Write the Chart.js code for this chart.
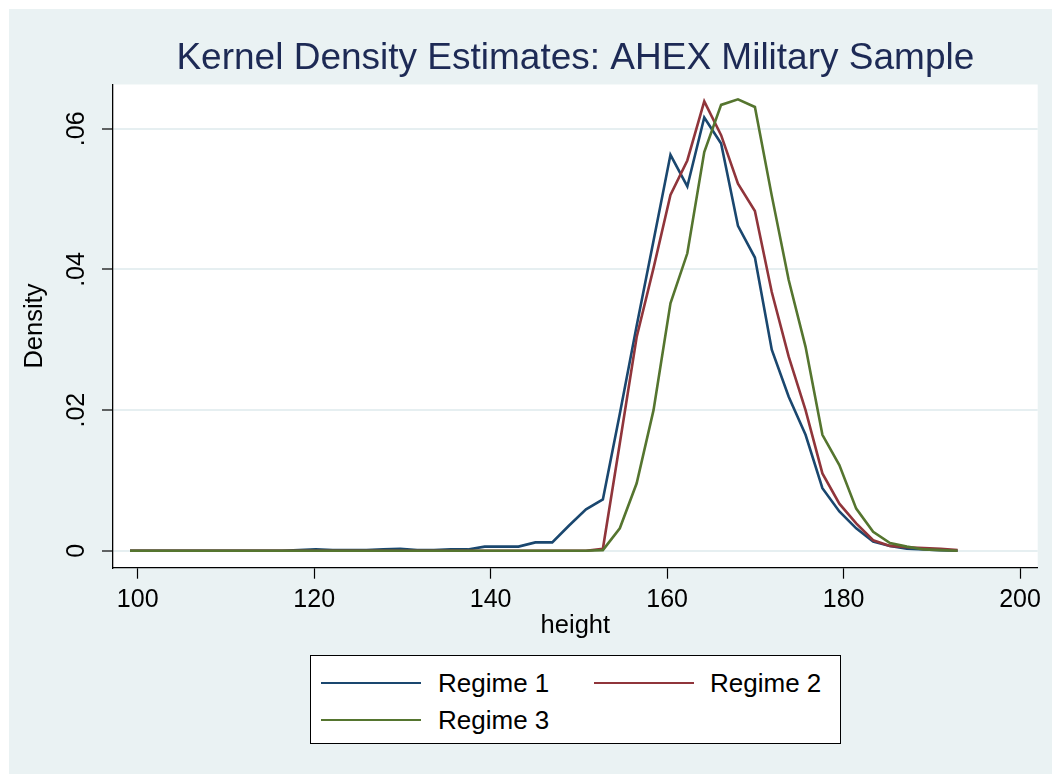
<!DOCTYPE html>
<html>
<head>
<meta charset="utf-8">
<script src="https://cdn.jsdelivr.net/npm/chart.js@4.4.1/dist/chart.umd.min.js"></script>
<style>
html,body{margin:0;padding:0;background:#ffffff;}
#wrap{position:relative;width:1052px;height:774px;overflow:hidden;}
#bg{position:absolute;left:9px;top:9px;right:0;bottom:0;background:#EAF2F3;}
#c{position:absolute;left:0;top:0;}
#legendBox{position:absolute;left:310px;top:655px;width:531px;height:89px;background:#fff;border:1px solid #000;box-sizing:border-box;}
.lgLine{position:absolute;height:2px;width:100px;}
.lgText{position:absolute;font-family:"Liberation Sans",Arial,sans-serif;font-size:26px;line-height:26px;color:#000;white-space:nowrap;}
</style>
</head>
<body>
<div id="wrap">
  <div id="bg"></div>
  <canvas id="c" width="1052" height="774"></canvas>
  <div id="legendBox"></div>
</div>
<script>
// ---- data ----
const heights = [99.13,101.04,102.96,104.87,106.79,108.70,110.61,112.53,114.44,116.36,
  118.27,120.18,122.10,124.01,125.93,127.84,129.75,131.67,133.58,135.50,
  137.41,139.32,141.24,143.15,145.07,146.98,148.89,150.81,152.72,154.64,
  156.55,158.46,160.38,162.29,164.21,166.12,168.03,169.95,171.86,173.78,
  175.69,177.60,179.52,181.43,183.35,185.26,187.17,189.09,191.00,192.92];

const regime1 = [0,0,0,0,0,0,0,0,0,0,
  0.0001,0.0002,0.0001,0.0001,0.0001,0.0002,0.0003,0.0001,0.0001,0.0002,
  0.0002,0.0006,0.0006,0.0006,0.0012,0.0012,0.0036,0.0059,0.0073,0.0195,
  0.0320,0.0441,0.0563,0.0518,0.0616,0.0579,0.0462,0.0417,0.0286,0.0219,
  0.0165,0.0089,0.0056,0.0032,0.0013,0.0007,0.0003,0.0002,0.0001,0.0000];

const regime2 = [0,0,0,0,0,0,0,0,0,0,
  0,0,0,0,0,0,0,0,0,0,
  0,0,0,0,0,0,0,0,0.0003,0.0153,
  0.0304,0.0402,0.0506,0.0555,0.0639,0.0591,0.0522,0.0483,0.0368,0.0276,
  0.0200,0.0110,0.0067,0.0039,0.0015,0.0007,0.0005,0.0004,0.0003,0.0001];

const regime3 = [0,0,0,0,0,0,0,0,0,0,
  0,0,0,0,0,0,0,0,0,0,
  0,0,0,0,0,0,0,0,0.0001,0.0032,
  0.0096,0.0200,0.0352,0.0423,0.0567,0.0634,0.0642,0.0631,0.0505,0.0385,
  0.0290,0.0165,0.0122,0.0060,0.0027,0.0011,0.0006,0.0002,0.0001,0.0000];

const seriesNames = ['Regime 1','Regime 2','Regime 3'];
const xTicks = [100,120,140,160,180,200];
const yTicks = [0,0.02,0.04,0.06];
const yTickLabels = ['0','.02','.04','.06'];
const chartTitle = 'Kernel Density Estimates: AHEX Military Sample';
const xTitle = 'height';
const yTitle = 'Density';

// ---- styles ----
const colors = ['#1a476f','#90353b','#55752f'];
const FONT = '"Liberation Sans", Arial, sans-serif';

const seriesValues = [regime1, regime2, regime3];
const datasets = seriesValues.map((vals, k) => ({
  label: seriesNames[k],
  data: heights.map((h, i) => ({x: h, y: vals[i]})),
  borderColor: colors[k],
  backgroundColor: colors[k],
  borderWidth: 2.6,
  pointRadius: 0,
  tension: 0,
  fill: false,
  order: 3 - k
}));

const plotBg = {
  id: 'plotBg',
  beforeDraw(chart) {
    const {ctx, chartArea: a} = chart;
    ctx.save();
    ctx.fillStyle = '#ffffff';
    ctx.fillRect(a.left, a.top, a.right - a.left, a.bottom - a.top);
    ctx.restore();
  }
};

const yLabels = {
  id: 'yLabels',
  afterDraw(chart) {
    const {ctx} = chart;
    const ys = chart.scales.y;
    ctx.save();
    ctx.font = '25px ' + FONT;
    ctx.fillStyle = '#000';
    ctx.textAlign = 'center';
    ctx.textBaseline = 'middle';
    yTicks.forEach((v, i) => {
      const py = ys.getPixelForValue(v);
      ctx.save();
      ctx.translate(77.3, py);
      ctx.rotate(-Math.PI / 2);
      ctx.fillText(yTickLabels[i], 0, 0);
      ctx.restore();
    });
    ctx.restore();
  }
};

const chart = new Chart(document.getElementById('c'), {
  type: 'line',
  data: {datasets},
  options: {
    responsive: false,
    animation: false,
    devicePixelRatio: 1,
    layout: {padding: {left: 0, right: 14.3, top: 0, bottom: 0}},
    plugins: {
      legend: {display: false},
      tooltip: {enabled: false},
      title: {
        display: true,
        text: chartTitle,
        fullSize: false,
        color: '#1d2a55',
        font: {family: FONT, size: 37, weight: 'normal', lineHeight: 1.2},
        padding: {top: 37, bottom: 3.1}
      }
    },
    scales: {
      x: {
        type: 'linear',
        min: 97.2,
        max: 202.0,
        afterBuildTicks: s => { s.ticks = xTicks.map(v => ({value: v})); },
        afterFit: s => { s.height = 206.3; },
        ticks: {
          color: '#000',
          font: {family: FONT, size: 25},
          padding: 6.6,
          maxRotation: 0,
          autoSkip: false
        },
        grid: {drawOnChartArea: false, drawTicks: true, tickLength: 11, tickColor: '#000', tickWidth: 1.2},
        border: {display: true, color: '#000', width: 1.3},
        title: {
          display: true,
          text: xTitle,
          color: '#000',
          font: {family: FONT, size: 25.5},
          padding: {top: 0, bottom: 132.9}
        }
      },
      y: {
        type: 'linear',
        min: -0.0024,
        max: 0.0663,
        afterBuildTicks: s => { s.ticks = yTicks.map(v => ({value: v})); },
        afterFit: s => { s.width = 113; },
        ticks: {display: false},
        grid: {color: '#e6eff1', lineWidth: 2, drawTicks: true, tickLength: 11, tickColor: '#000', tickWidth: 1.2},
        border: {display: true, color: '#000', width: 1.3},
        title: {
          display: true,
          text: yTitle,
          color: '#000',
          font: {family: FONT, size: 25.5},
          padding: {top: 19.9, bottom: 0}
        }
      }
    }
  },
  plugins: [plotBg, yLabels]
});

// ---- legend built from the chart's datasets ----
const wrap = document.getElementById('wrap');
const legendPos = [
  {lx: 321, ly: 681.5, tx: 438, ty: 669.6},
  {lx: 594, ly: 681.5, tx: 710, ty: 669.6},
  {lx: 321, ly: 719, tx: 438, ty: 707.3}
];
chart.data.datasets.forEach((ds, k) => {
  const p = legendPos[k];
  const line = document.createElement('div');
  line.className = 'lgLine';
  line.style.left = p.lx + 'px';
  line.style.top = p.ly + 'px';
  line.style.background = ds.borderColor;
  wrap.appendChild(line);
  const t = document.createElement('div');
  t.className = 'lgText';
  t.style.left = p.tx + 'px';
  t.style.top = p.ty + 'px';
  t.textContent = ds.label;
  wrap.appendChild(t);
});
</script>
</body>
</html>
